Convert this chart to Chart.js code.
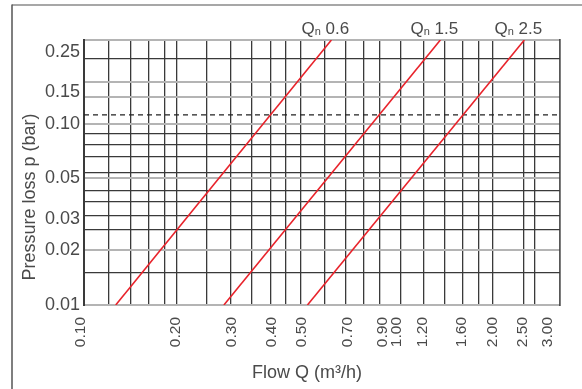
<!DOCTYPE html>
<html>
<head>
<meta charset="utf-8">
<script src="https://cdn.jsdelivr.net/npm/chart.js@4"></script>
<style>
  html, body { margin: 0; padding: 0; background: #fff; overflow: hidden; }
</style>
</head>
<body>
<canvas id="chart" width="582" height="389"></canvas>
<script>
// axis ranges (log-log)
const xMin = 0.1, xMax = 3.2;
const yMin = 0.01, yMax = 0.29;

// tick labels
const xLabels = [0.10, 0.20, 0.30, 0.40, 0.50, 0.70, 0.90, 1.00, 1.20, 1.60, 2.00, 2.50, 3.00];
const yLabels = [0.01, 0.02, 0.03, 0.05, 0.10, 0.15, 0.25];

// grid lines
const xGrid = [0.12, 0.14, 0.16, 0.18, 0.197, 0.245, 0.292, 0.34, 0.39, 0.435, 0.484,
               0.576, 0.671, 0.764, 0.858, 1.0, 1.19, 1.38, 1.58, 1.77, 1.96, 2.45, 2.67];
const yGridMajor = [0.02, 0.05, 0.10, 0.14, 0.17];
const yGridMinor = [0.015, 0.026, 0.031, 0.037, 0.043, 0.054, 0.066, 0.077, 0.088, 0.23];
const refLevel = 0.112;   // dashed line

// series: pressure loss (bar) vs flow (m3/h)
const seriesNames = ['Qn 0.6', 'Qn 1.5', 'Qn 2.5'];
const lossPts  = [0.01, 0.29];
const flowQn06 = [0.126, 0.606];
const flowQn15 = [0.277, 1.34];
const flowQn25 = [0.509, 2.47];

const FONT = '"Liberation Sans", Arial, sans-serif';
const TEXT = '#4a4a4a';
const DARK = '#3a3a3a';
const GRAY = '#b4b4b4';
const RED  = '#e8232b';

const has = (arr, v) => arr.some(a => Math.abs(a - v) < 1e-9);
const union = (...lists) => [...new Set(lists.flat())].sort((a, b) => a - b);
const pts = flow => flow.map((q, i) => ({ x: q, y: lossPts[i] }));

const redLine = (name, flow) => ({
  label: name, data: pts(flow), borderColor: RED, borderWidth: 1.6,
  pointRadius: 0, fill: false, tension: 0
});

// outer frame, plot frame, axis titles, series labels
const decor = {
  id: 'decor',
  beforeDraw(chart) {
    const { ctx, width, height } = chart;
    ctx.save();
    ctx.lineWidth = 1.5;
    ctx.strokeStyle = '#8a8a8a';
    ctx.beginPath(); ctx.moveTo(12, 5); ctx.lineTo(width, 5); ctx.stroke();
    ctx.strokeStyle = '#555';
    ctx.beginPath(); ctx.moveTo(12, 4.5); ctx.lineTo(12, height); ctx.stroke();
    ctx.restore();
  },
  beforeDatasetsDraw(chart) {
    const { ctx, chartArea: a } = chart;
    ctx.save();
    ctx.lineWidth = 2; ctx.strokeStyle = GRAY;
    ctx.beginPath(); ctx.moveTo(a.left, a.top); ctx.lineTo(a.right, a.top);
    ctx.moveTo(a.left, a.bottom); ctx.lineTo(a.right, a.bottom); ctx.stroke();
    ctx.strokeStyle = DARK;
    ctx.lineWidth = 2;
    ctx.beginPath(); ctx.moveTo(a.left, a.top - 1); ctx.lineTo(a.left, a.bottom + 1); ctx.stroke();
    ctx.lineWidth = 1.5;
    ctx.beginPath(); ctx.moveTo(a.right, a.top - 1); ctx.lineTo(a.right, a.bottom + 1); ctx.stroke();
    ctx.restore();
  },
  afterDraw(chart) {
    const { ctx } = chart;
    ctx.save();
    ctx.fillStyle = TEXT;
    ctx.textBaseline = 'middle';
    ctx.textAlign = 'center';
    ctx.font = '18px ' + FONT;
    ctx.fillText('Flow Q (m³/h)', 307, 373);
    ctx.save();
    ctx.translate(30, 197);
    ctx.rotate(-Math.PI / 2);
    ctx.fillText('Pressure loss p (bar)', 0, 0);
    ctx.restore();

    // "Qn x.x" labels above each line end
    ctx.textAlign = 'left';
    ctx.textBaseline = 'alphabetic';
    seriesNames.forEach((name, i) => {
      const meta = chart.getDatasetMeta(i);
      const end = meta.data[meta.data.length - 1];
      const big = '17px ' + FONT, small = '11px ' + FONT;
      const head = name.charAt(0), sub = name.charAt(1), rest = name.slice(2);
      ctx.font = big; const w1 = ctx.measureText(head).width, w3 = ctx.measureText(rest).width;
      ctx.font = small; const w2 = ctx.measureText(sub).width;
      let x = end.x - 6 - (w1 + w2 + w3) / 2;
      const y = 34;
      ctx.font = big; ctx.fillText(head, x, y); x += w1;
      ctx.font = small; ctx.fillText(sub, x, y + 1); x += w2;
      ctx.font = big; ctx.fillText(rest, x, y);
    });
    ctx.restore();
  }
};

new Chart(document.getElementById('chart'), {
  type: 'line',
  data: {
    datasets: [
      redLine(seriesNames[0], flowQn06),
      redLine(seriesNames[1], flowQn15),
      redLine(seriesNames[2], flowQn25),
      {
        label: 'ref', data: [{ x: xMin, y: refLevel }, { x: xMax, y: refLevel }],
        borderColor: '#222', borderWidth: 1.2, borderDash: [5, 4], pointRadius: 0
      }
    ]
  },
  options: {
    responsive: false,
    animation: false,
    devicePixelRatio: 1,
    layout: { padding: { left: 0, right: 19, top: 40, bottom: 0 } },
    plugins: { legend: { display: false }, tooltip: { enabled: false } },
    scales: {
      x: {
        type: 'logarithmic', min: xMin, max: xMax,
        afterBuildTicks: s => { s.ticks = union(xGrid, xLabels).map(v => ({ value: v })); },
        afterFit: s => { s.height = 84; },
        border: { display: false },
        grid: {
          drawTicks: false,
          color: c => has(xGrid, c.tick.value) ? DARK : 'rgba(0,0,0,0)',
          lineWidth: 1.3
        },
        ticks: {
          autoSkip: false, minRotation: 90, maxRotation: 90, padding: 12, labelOffset: -3,
          color: TEXT, font: { family: FONT, size: 15.5 },
          callback: v => has(xLabels, v) ? v.toFixed(2) : ''
        }
      },
      y: {
        type: 'logarithmic', min: yMin, max: yMax,
        afterBuildTicks: s => {
          s.ticks = union(yGridMajor, yGridMinor, yLabels).map(v => ({ value: v }));
        },
        afterFit: s => { s.width = 84; },
        border: { display: false },
        grid: {
          drawTicks: false,
          color: c => has(yGridMajor, c.tick.value) ? GRAY
                    : has(yGridMinor, c.tick.value) ? DARK : 'rgba(0,0,0,0)',
          lineWidth: c => has(yGridMajor, c.tick.value) ? 2 : 1.2
        },
        ticks: {
          autoSkip: false, padding: 4,
          color: TEXT, font: { family: FONT, size: 18 },
          callback: v => has(yLabels, v) ? v.toFixed(2) : ''
        }
      }
    }
  },
  plugins: [decor]
});
</script>
</body>
</html>
